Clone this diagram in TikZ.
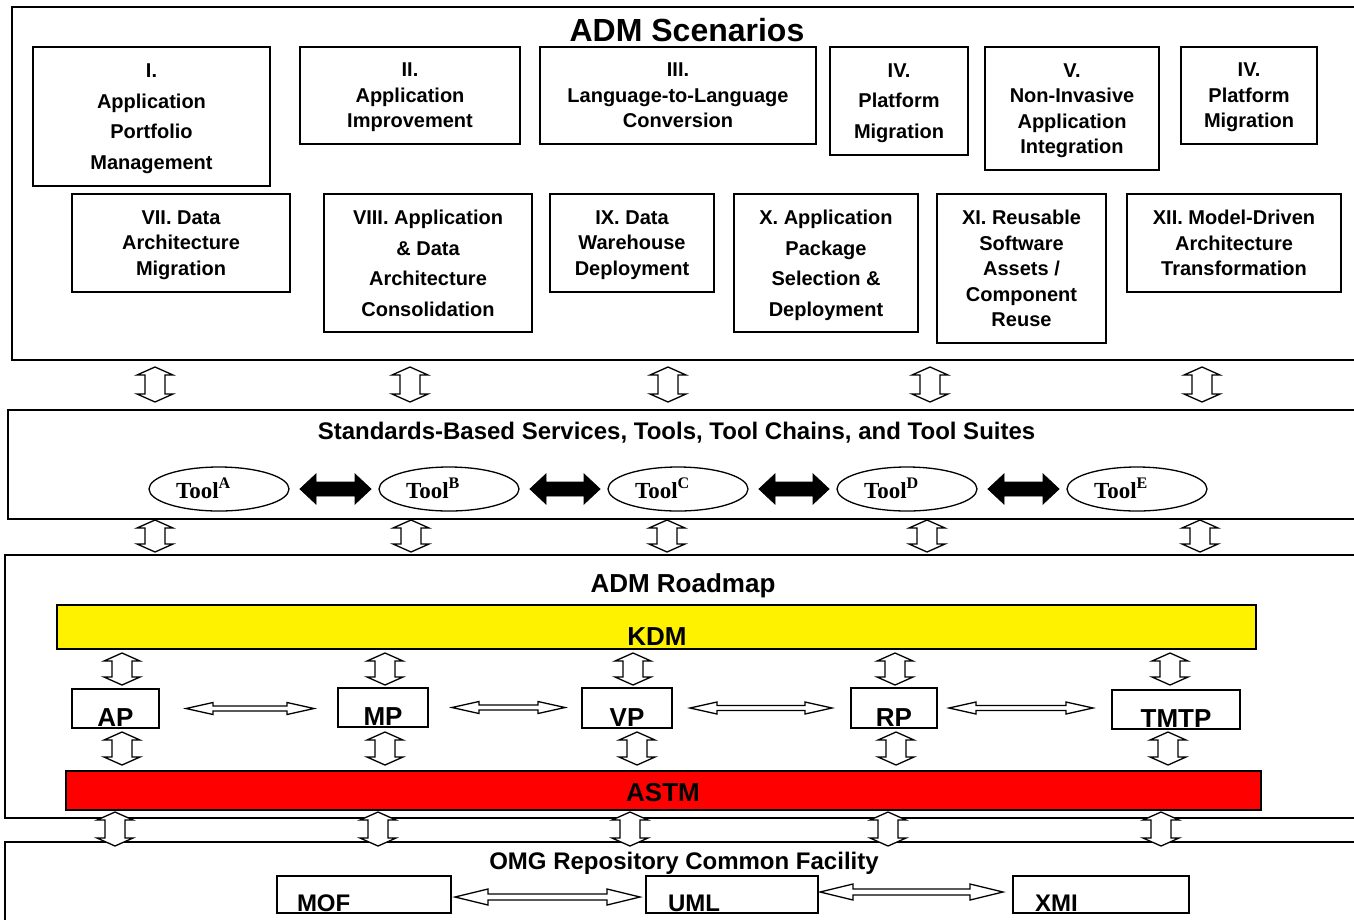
\documentclass[tikz,border=0pt]{standalone}
\usepackage{fontspec}
\setmainfont{Liberation Sans}
\newfontfamily\toolserif{Liberation Serif}
\usetikzlibrary{calc,shapes.geometric}

\newcommand\sizebf[2]{\fontsize{#1}{#2}\selectfont\bfseries}

% horizontal two-headed block arrow: [style]{from}{to}{head half width}{shaft half width}{head length}
\newcommand\hblock[6][]{%
  \draw[blockarrow,#1] let \p1=(#2), \p2=(#3) in
    (\x1,\y1) -- (\x1+#6pt,\y1+#4pt) -- (\x1+#6pt,\y1+#5pt)
    -- (\x2-#6pt,\y1+#5pt) -- (\x2-#6pt,\y1+#4pt) -- (\x2,\y1)
    -- (\x2-#6pt,\y1-#4pt) -- (\x2-#6pt,\y1-#5pt)
    -- (\x1+#6pt,\y1-#5pt) -- (\x1+#6pt,\y1-#4pt) -- cycle;}

% vertical two-headed block arrow: [style]{top}{bottom}{head half width}{shaft half width}{head length}
\newcommand\vblock[6][]{%
  \draw[blockarrow,#1] let \p1=(#2), \p2=(#3) in
    (\x1,\y1) -- (\x1+#4pt,\y1-#6pt) -- (\x1+#5pt,\y1-#6pt)
    -- (\x1+#5pt,\y2+#6pt) -- (\x1+#4pt,\y2+#6pt) -- (\x1,\y2)
    -- (\x1-#4pt,\y2+#6pt) -- (\x1-#5pt,\y2+#6pt)
    -- (\x1-#5pt,\y1-#6pt) -- (\x1-#4pt,\y1-#6pt) -- cycle;}
\newcommand\updown[2]{\vblock{#1}{#2}{18}{10}{8}}

\tikzset{
  every node/.style={inner sep=0pt, outer sep=0pt},
  panel/.style={draw, line width=1.4pt, anchor=north west},
  scen/.style={draw, line width=1.8pt, align=center, text depth=0pt, font=\sizebf{20}{25.5}},
  loose/.style={font=\sizebf{20}{30.5}},
  heading/.style={anchor=base, font=\sizebf{24}{28}},
  bigheading/.style={anchor=base, font=\sizebf{32}{36}},
  bar/.style={draw, line width=1.8pt},
  pbox/.style={draw, line width=1.5pt},
  plabel/.style={anchor=base, font=\sizebf{26}{30}},
  rbox/.style={draw, line width=1.5pt},
  rlabel/.style={anchor=base west, font=\sizebf{24}{28}},
  tool/.style={draw, ellipse, line width=1.3pt, minimum width=140pt, minimum height=44pt},
  toollabel/.style={anchor=base west, font=\toolserif\bfseries\fontsize{23}{26}\selectfont},
  blockarrow/.style={draw, fill=white, line width=1.3pt, line join=miter},
  solidarrow/.style={fill=black, draw=black, line width=0.8pt},
}

\begin{document}
\begin{tikzpicture}[x=1pt, y=-1pt]
\useasboundingbox (0,0) rectangle (1354,919);
\clip (0,0) rectangle (1354,919);

% layers
\node[panel, minimum width=1400pt, minimum height=353pt] (scenarios) at (12,7) {};
\node[panel, minimum width=1400pt, minimum height=109pt] (services) at (8,410) {};
\node[panel, minimum width=1400pt, minimum height=263pt] (roadmap) at (5,555) {};
\node[panel, minimum width=1400pt, minimum height=100pt] (repository) at (5,842) {};

% ADM scenarios
\node[bigheading] (scentitle) at (687,41) {ADM Scenarios};
\node[scen, loose, minimum width=237pt, minimum height=139pt] (s1) at (151.5,116.5) {I.\\Application\\Portfolio\\Management};
\node[scen, minimum width=220pt, minimum height=97pt] (s2) at (410,95.5) {II.\\Application\\Improvement};
\node[scen, minimum width=276pt, minimum height=97pt] (s3) at (678,95.5) {III.\\Language-to-Language\\Conversion};
\node[scen, loose, minimum width=138pt, minimum height=108pt] (s4) at (899,101) {IV.\\Platform\\Migration};
\node[scen, minimum width=174pt, minimum height=123pt] (s5) at (1072,108.5) {V.\\Non-Invasive\\Application\\Integration};
\node[scen, minimum width=136pt, minimum height=97pt] (s6) at (1249,95.5) {IV.\\Platform\\Migration};
\node[scen, minimum width=218pt, minimum height=98pt] (s7) at (181,243) {VII. Data\\Architecture\\Migration};
\node[scen, loose, minimum width=208pt, minimum height=138pt] (s8) at (428,263) {VIII. Application\\\& Data\\Architecture\\Consolidation};
\node[scen, minimum width=164pt, minimum height=98pt] (s9) at (632,243) {IX. Data\\Warehouse\\Deployment};
\node[scen, loose, minimum width=184pt, minimum height=138pt] (s10) at (826,263) {X. Application\\Package\\Selection \&\\Deployment};
\node[scen, minimum width=169pt, minimum height=149pt] (s11) at (1021.5,268.5) {XI. Reusable\\Software\\Assets /\\Component\\Reuse};
\node[scen, minimum width=214pt, minimum height=98pt] (s12) at (1234,243) {XII. Model-Driven\\Architecture\\Transformation};

% scenarios <-> services
\foreach \x [count=\i] in {155,410,668,930,1202} {
  \coordinate (a\i-t) at (\x,367); \coordinate (a\i-b) at (\x,402);
  \updown{a\i-t}{a\i-b}
}

% services, tools and tool chains
\node[heading] (svctitle) at (676.5,439) {Standards-Based Services, Tools, Tool Chains, and Tool Suites};
\foreach \n/\x in {A/219,B/449,C/678,D/907,E/1137} {
  \node[tool] (tool\n) at (\x,489) {};
  \node[toollabel] at ([xshift=27pt,yshift=-9pt]tool\n.west) {Tool\textsuperscript{\n}};
}
\foreach \a/\b in {A/B,B/C,C/D,D/E} {
  \hblock[solidarrow]{[xshift=11pt]tool\a.east}{[xshift=-8pt]tool\b.west}{15}{7}{16}
}

% services <-> roadmap
\foreach \x [count=\i] in {155,411,667,927,1200} {
  \coordinate (b\i-t) at (\x,520); \coordinate (b\i-b) at (\x,552);
  \updown{b\i-t}{b\i-b}
}

% ADM roadmap
\node[anchor=base, font=\sizebf{26}{30}] (roadtitle) at (683,592) {ADM Roadmap};
\node[bar, fill=yellow, minimum width=1199pt, minimum height=44pt] (kdm) at (656.5,627) {};
\node[plabel] at (657,645) {KDM};
\node[bar, fill=red, minimum width=1195pt, minimum height=39pt] (astm) at (663.5,790.5) {};
\node[plabel] at (663,801) {ASTM};

\node[pbox, minimum width=87pt, minimum height=39pt] (ap) at (115.5,708.5) {};
\node[pbox, minimum width=90pt, minimum height=39pt] (mp) at (383,707.5) {};
\node[pbox, minimum width=90pt, minimum height=40pt] (vp) at (627,708) {};
\node[pbox, minimum width=86pt, minimum height=40pt] (rp) at (894,708) {};
\node[pbox, minimum width=128pt, minimum height=39pt] (tmtp) at (1176,709.5) {};
\foreach \b/\t in {ap/AP,mp/MP,vp/VP,rp/RP,tmtp/TMTP} {
  \node[plabel] at ([yshift=2pt]\b.south) {\t};
}

\hblock{[xshift=27pt]ap.east}{[xshift=-24pt]mp.west}{6}{2.5}{27}
\hblock{[xshift=24pt]mp.east}{[xshift=-17pt]vp.west}{6}{2.5}{27}
\hblock{[xshift=18pt]vp.east}{[xshift=-19pt]rp.west}{6}{2.5}{27}
\hblock{[xshift=12pt]rp.east}{[xshift=-19pt]tmtp.west}{6}{2.5}{27}

\foreach \x [count=\i] in {122,385,633,895,1170} {
  \coordinate (c\i-t) at (\x,653); \coordinate (c\i-b) at (\x,685);
  \updown{c\i-t}{c\i-b}
}
\foreach \x [count=\i] in {122,385,637,896,1168} {
  \coordinate (d\i-t) at (\x,732); \coordinate (d\i-b) at (\x,765);
  \updown{d\i-t}{d\i-b}
}

% roadmap <-> repository
\foreach \x [count=\i] in {115,378,630,888,1161} {
  \coordinate (e\i-t) at (\x,812); \coordinate (e\i-b) at (\x,846);
  \updown{e\i-t}{e\i-b}
}

% OMG repository common facility
\node[heading] (repotitle) at (684,869) {OMG Repository Common Facility};
\node[rbox, minimum width=174pt, minimum height=37pt] (mof) at (364,894.5) {};
\node[rbox, minimum width=172pt, minimum height=37pt] (uml) at (732,894.5) {};
\node[rbox, minimum width=176pt, minimum height=37pt] (xmi) at (1101,894.5) {};
\node[rlabel] at ([xshift=20pt,yshift=2pt]mof.south west) {MOF};
\node[rlabel] at ([xshift=22pt,yshift=2pt]uml.south west) {UML};
\node[rlabel] at ([xshift=22pt,yshift=2pt]xmi.south west) {XMI};
\hblock{[xshift=4pt,yshift=-2.5pt]mof.east}{[xshift=-6pt]uml.west}{8}{3}{33}
\hblock{[xshift=2pt,yshift=2.5pt]uml.east}{[xshift=-10pt]xmi.west}{8}{3}{33}
\end{tikzpicture}
\end{document}
